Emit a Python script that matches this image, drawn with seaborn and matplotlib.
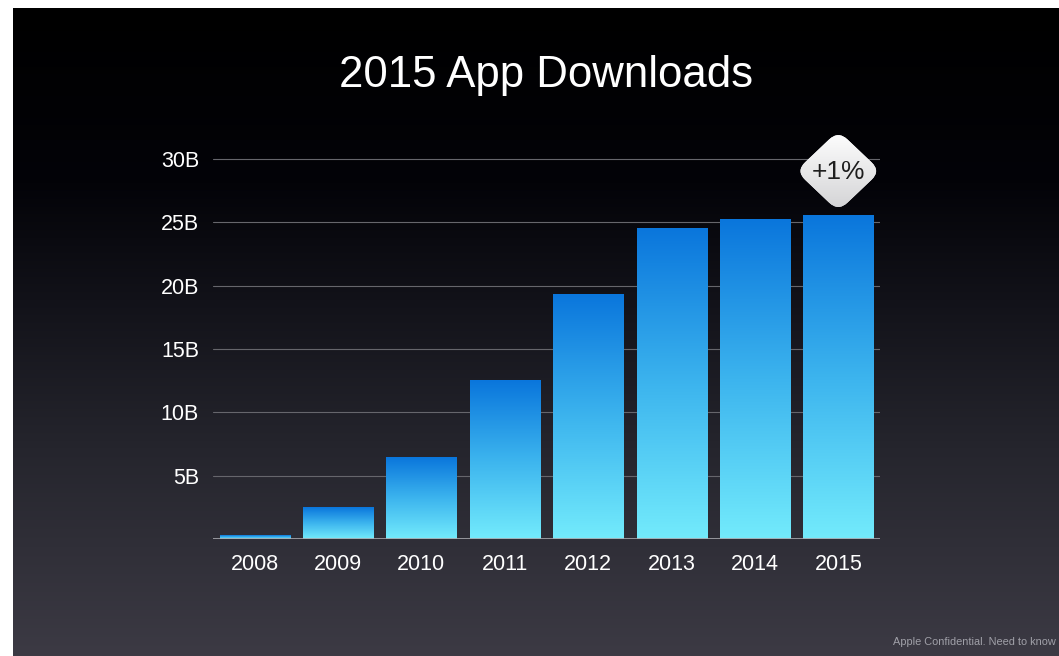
import numpy as np
import matplotlib
matplotlib.use("Agg")
import matplotlib.pyplot as plt
import matplotlib.transforms as mtransforms
from matplotlib.patches import FancyBboxPatch
from matplotlib.colors import LinearSegmentedColormap
import seaborn as sns

# Annual App Store downloads, billions
years = ["2008", "2009", "2010", "2011", "2012", "2013", "2014", "2015"]
downloads = [0.3, 2.45, 6.4, 12.5, 19.3, 24.5, 25.2, 25.5]
ytick_values = [5, 10, 15, 20, 25, 30]
ytick_labels = ["5B", "10B", "15B", "20B", "25B", "30B"]
title = "2015 App Downloads"
badge_text = "+1%"
footnote = "Apple Confidential. Need to know"

sns.set_theme(style="dark")
plt.rcParams["font.family"] = ["Liberation Sans", "DejaVu Sans"]

W, H = 1059, 656
fig = plt.figure(figsize=(W / 100, H / 100), dpi=100, facecolor="white")

# Slide background: black at the top fading to slate grey at the bottom
bg = fig.add_axes([13 / W, 0, 1 - 13 / W, (H - 8) / H], zorder=0)
stops_y = np.array([0.0, 0.27, 0.45, 0.68, 1.0])
stops_c = np.array([[0, 0, 0], [3, 3, 8], [18, 18, 25], [37, 37, 45], [60, 58, 68]]) / 255
t = np.linspace(0, 1, 400)
grad = np.stack([np.interp(t, stops_y, stops_c[:, k]) for k in range(3)], axis=1)
bg.imshow(grad[:, None, :], aspect="auto", extent=[0, 1, 1, 0])
bg.set_axis_off()

# Plot area
y_top = 33
px_per_unit = (539 - 159) / 30
ax_h = y_top * px_per_unit
ax = fig.add_axes([213 / W, (H - 539) / H, (880 - 213) / W, ax_h / H], zorder=1)
ax.set_facecolor("none")

sns.barplot(x=years, y=downloads, width=0.84, ax=ax, color="#1a80e0", zorder=3)

bar_cmap = LinearSegmentedColormap.from_list(
    "bar", ["#73ebfc", "#3cb4ee", "#0a76dc"])
vgrad = np.linspace(0, 1, 256)[:, None]
for p in ax.patches:
    x0, w, h = p.get_x(), p.get_width(), p.get_height()
    p.set_visible(False)
    ax.imshow(vgrad, cmap=bar_cmap, aspect="auto", origin="lower",
              extent=[x0, x0 + w, 0, h], zorder=3)

ax.set_xlim(-0.5, len(years) - 0.5)
ax.set_ylim(0, y_top)
ax.set_yticks(ytick_values)
ax.set_yticklabels(ytick_labels)
for v in ytick_values:
    ax.axhline(v, color="#66666c", lw=0.8, zorder=1)
ax.axhline(0, color="#a8a8ae", lw=1.2, zorder=4)
ax.grid(False)
for s in ax.spines.values():
    s.set_visible(False)
ax.tick_params(axis="both", length=0, labelsize=15.5, colors="white")
ax.tick_params(axis="y", pad=10)
ax.tick_params(axis="x", pad=10.5)
ax.set_xlabel("")
ax.set_ylabel("")

# Title
fig.text(546 / W, 1 - 75 / H, title, ha="center", va="center",
         fontsize=31.5, color="white")

# Change badge above the last bar: rounded diamond
bx, by = len(years) - 1, downloads[-1] + 3.55
s = 0.6  # inches
badge_tr = (mtransforms.Affine2D().rotate_deg(45).scale(1, 0.95)
            + fig.dpi_scale_trans
            + mtransforms.ScaledTranslation(bx, by, ax.transData))
badge = FancyBboxPatch((-s / 2, -s / 2), s, s,
                       boxstyle="round,pad=0,rounding_size=0.13",
                       transform=badge_tr, facecolor="#efefef",
                       edgecolor="none", zorder=5, clip_on=False)
ax.add_patch(badge)
badge_cmap = LinearSegmentedColormap.from_list("badge", ["#d2d2d4", "#ffffff"])
im = ax.imshow(vgrad, cmap=badge_cmap, aspect="auto", origin="lower",
               extent=[bx - 0.6, bx + 0.6, by - 3.2, by + 3.2], zorder=6)
im.set_clip_path(badge)
ax.set_xlim(-0.5, len(years) - 0.5)
ax.set_ylim(0, y_top)
ax.text(bx, by - 0.1, badge_text, ha="center", va="center", fontsize=19,
        color="#1e1e1e", zorder=7)

# Footnote
fig.text(1056 / W, 1 - 642 / H, footnote, ha="right", va="center",
         fontsize=7.9, color="#a0a0a8")

fig.savefig("out.png", dpi=100, facecolor="white")
